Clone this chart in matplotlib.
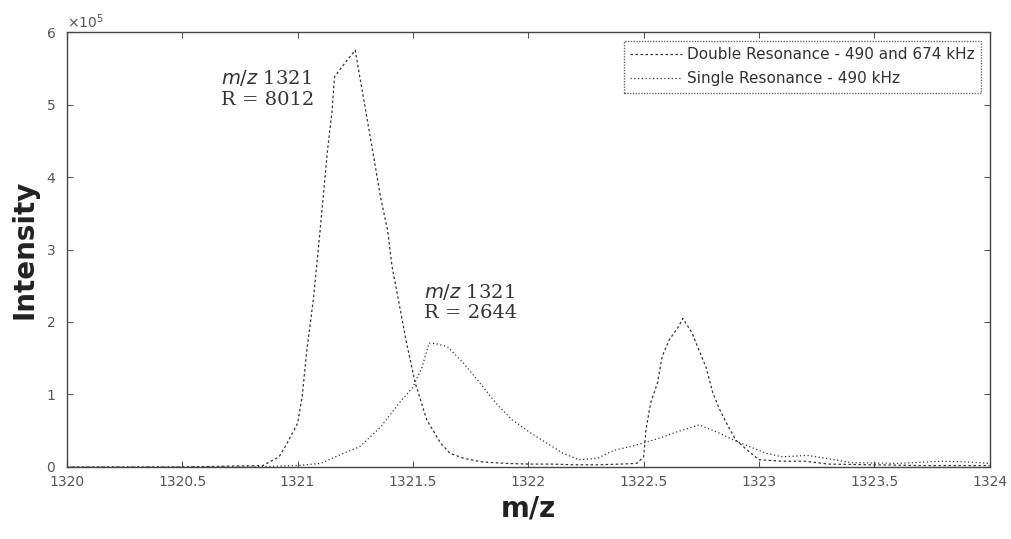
import matplotlib
matplotlib.use('Agg')
import matplotlib.pyplot as plt
from matplotlib.ticker import ScalarFormatter

# m/z axis positions and intensities (counts) for both traces
dbl_mz = [1320.0, 1320.5, 1320.85, 1320.92, 1320.95, 1321.0, 1321.02, 1321.04, 1321.07,
          1321.09, 1321.11, 1321.13, 1321.15, 1321.16, 1321.20, 1321.25, 1321.27, 1321.30,
          1321.33, 1321.36, 1321.39, 1321.41, 1321.44, 1321.47, 1321.51, 1321.56, 1321.62,
          1321.66, 1321.72, 1321.8, 1321.9, 1322.0, 1322.1, 1322.2, 1322.3, 1322.4, 1322.47,
          1322.50, 1322.51, 1322.53, 1322.56, 1322.58, 1322.61, 1322.65, 1322.67, 1322.71,
          1322.74, 1322.77, 1322.80, 1322.83, 1322.86, 1322.90, 1322.95, 1323.0, 1323.1,
          1323.2, 1323.3, 1323.5, 1323.7, 1323.9, 1324.0]
dbl_int = [0, 0, 0.02, 0.14, 0.3, 0.6, 0.97, 1.6, 2.35, 3.0, 3.68, 4.37, 4.92, 5.38, 5.55,
           5.75, 5.38, 4.83, 4.28, 3.72, 3.27, 2.76, 2.26, 1.75, 1.16, 0.65, 0.33, 0.19, 0.12,
           0.07, 0.05, 0.04, 0.04, 0.03, 0.03, 0.04, 0.05, 0.14, 0.51, 0.88, 1.16, 1.52, 1.75,
           1.93, 2.05, 1.85, 1.61, 1.38, 1.02, 0.79, 0.6, 0.37, 0.23, 0.1, 0.08, 0.08, 0.04,
           0.03, 0.02, 0.02, 0.02]

sgl_mz = [1320.0, 1320.8, 1321.0, 1321.1, 1321.2, 1321.27, 1321.36, 1321.44, 1321.5, 1321.54,
          1321.57, 1321.6, 1321.65, 1321.72, 1321.79, 1321.86, 1321.93, 1322.01, 1322.08,
          1322.15, 1322.22, 1322.30, 1322.37, 1322.44, 1322.51, 1322.58, 1322.64, 1322.74,
          1322.82, 1322.89, 1322.96, 1323.03, 1323.10, 1323.21, 1323.29, 1323.4, 1323.6,
          1323.8, 1323.9, 1324.0]
sgl_int = [0, 0, 0.02, 0.05, 0.19, 0.28, 0.55, 0.88, 1.1, 1.38, 1.71, 1.70, 1.66, 1.43, 1.16,
           0.88, 0.65, 0.47, 0.33, 0.19, 0.1, 0.12, 0.23, 0.28, 0.34, 0.41, 0.48, 0.58, 0.48,
           0.37, 0.28, 0.19, 0.14, 0.16, 0.12, 0.06, 0.05, 0.08, 0.07, 0.05]

scale = 1e5
dbl_int = [v * scale for v in dbl_int]
sgl_int = [v * scale for v in sgl_int]

x_ticks = [1320, 1320.5, 1321, 1321.5, 1322, 1322.5, 1323, 1323.5, 1324]
y_ticks = [v * scale for v in range(7)]

ink = '#555555'

fig = plt.figure(figsize=(10.12, 5.39), dpi=100)
ax = fig.add_axes([0.066, 0.1336, 0.912, 0.807])

ax.plot(dbl_mz, dbl_int, color='#333333', lw=0.9, ls=(0, (2, 2)),
        label='Double Resonance - 490 and 674 kHz')
ax.plot(sgl_mz, sgl_int, color='#333333', lw=0.9, ls=(0, (1, 2)),
        label='Single Resonance - 490 kHz')

ax.set_xlim(1320, 1324)
ax.set_ylim(0, 6 * scale)
ax.set_xticks(x_ticks)
ax.set_xticklabels([f'{t:g}' for t in x_ticks])
ax.set_yticks(y_ticks)

fmt = ScalarFormatter(useMathText=True)
fmt.set_powerlimits((0, 0))
ax.yaxis.set_major_formatter(fmt)
ax.yaxis.get_offset_text().set_color(ink)
ax.yaxis.get_offset_text().set_fontsize(10)

ax.tick_params(direction='in', top=True, right=True, length=4, width=0.8,
               colors=ink, labelsize=10)
ax.tick_params(axis='x', pad=6)
ax.tick_params(axis='y', pad=8)
for sp in ax.spines.values():
    sp.set_color('#444444')
    sp.set_linewidth(1.0)
    sp.set_linestyle((0, (1, 1)))

ax.set_xlabel('m/z', fontsize=20, fontweight='bold', color='#222222', labelpad=4)
ax.set_ylabel('Intensity', fontsize=20, fontweight='bold', color='#222222', labelpad=5)

notes = [(1320.67, 5.37, r'$m/z$ 1321'), (1320.67, 5.06, 'R = 8012'),
         (1321.55, 2.41, r'$m/z$ 1321'), (1321.55, 2.12, 'R = 2644')]
for nx, ny, s in notes:
    ax.text(nx, ny * scale, s, fontsize=14, color='#333333', va='center',
            family='DejaVu Serif')

leg = ax.legend(loc='upper right', fontsize=11, handlelength=3.4, handletextpad=0.3,
                labelspacing=0.6, frameon=True, fancybox=False, borderaxespad=0.6,
                borderpad=0.4, labelcolor='#333333')
leg.get_frame().set_edgecolor('#444444')
leg.get_frame().set_linestyle((0, (1, 1)))
leg.get_frame().set_linewidth(1.0)

fig.savefig('out.png', dpi=100)
